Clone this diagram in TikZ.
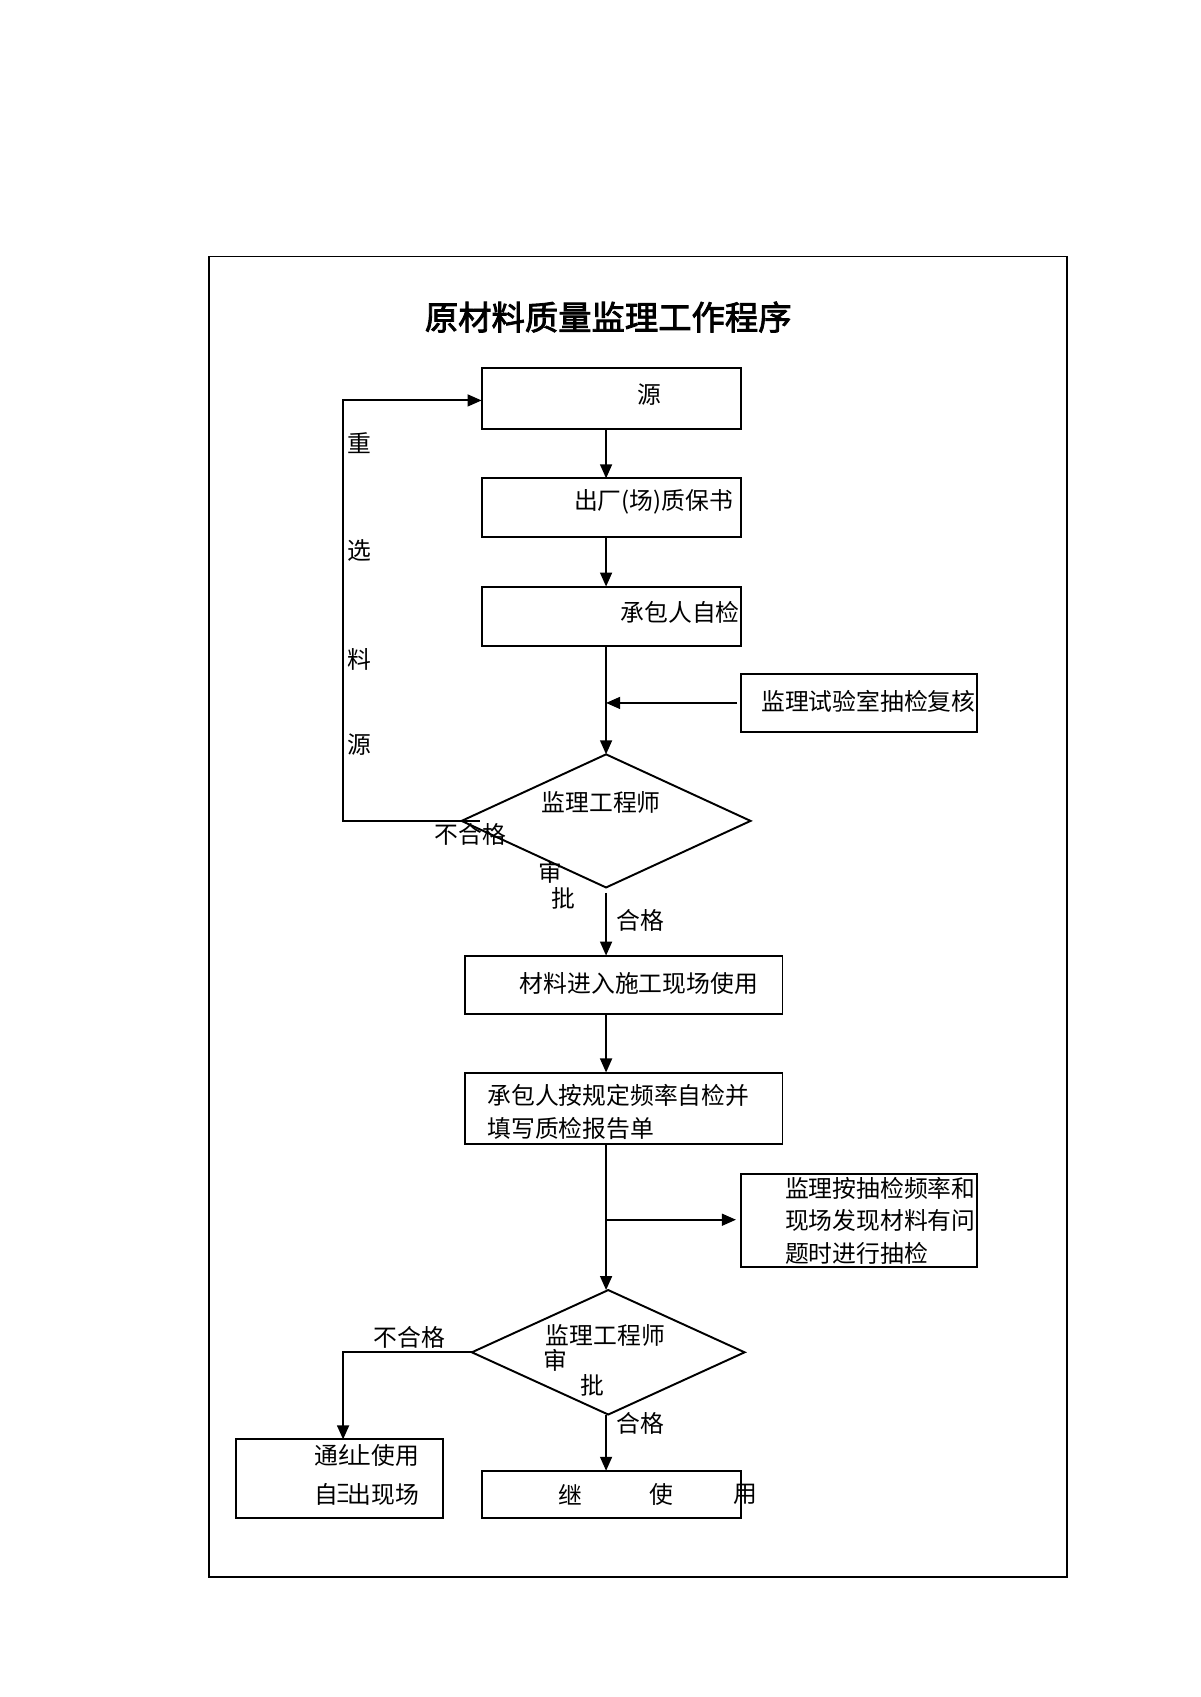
\documentclass[tikz,border=0pt]{standalone}
\usepackage{fontspec}
\setmainfont{Noto Sans CJK SC}
\newfontfamily\titlefont{Noto Sans CJK SC}[FakeBold=2.5]
\usetikzlibrary{arrows.meta,shapes.geometric}
\begin{document}
\begin{tikzpicture}[x=0.5pt,y=-0.5pt,
  ln/.style={line width=0.9pt},
  arr/.style={ln,-{Triangle[length=6.5pt,width=5.5pt]}},
  box/.style={draw,line width=0.9pt,inner sep=0pt,outer sep=0pt},
  dia/.style={diamond,draw,line width=0.9pt,inner sep=0pt,outer sep=0pt},
  txt/.style={inner sep=0pt,font=\fontsize{11pt}{13pt}\selectfont}]
\useasboundingbox (0,0) rectangle (1109,1568);
% outer frame
\draw[line width=0.9pt] (193,237) rectangle (986,1457);
% title
\node[inner sep=0pt,font=\titlefont\fontsize{15.4pt}{18pt}\selectfont] (title) at (562,293) {原材料质量监理工作程序};
\coordinate (spine) at (560,0);
\coordinate (fb) at (317,0);
% boxes
\node[box,minimum width=120pt,minimum height=28pt] (b1) at (565,368) {};
\node[box,minimum width=120pt,minimum height=27pt] (b2) at (565,469) {};
\node[box,minimum width=120pt,minimum height=27.5pt] (b3) at (565,569.5) {};
\node[box,minimum width=109pt,minimum height=26.5pt] (lab) at (794,649.5) {};
\node[dia,minimum width=133.5pt,minimum height=61.5pt] (d1) at (560,758.5) {};
\node[box,minimum width=146.5pt,minimum height=27pt] (b4) at (576.5,910) {};
\node[box,minimum width=146.5pt,minimum height=33pt] (b5) at (576.5,1024) {};
\node[box,minimum width=109pt,minimum height=43pt] (b6) at (794,1128) {};
\node[dia,minimum width=126pt,minimum height=57.5pt] (d2) at (562,1249.5) {};
\node[box,minimum width=95.5pt,minimum height=36.5pt] (b7) at (313.5,1366.5) {};
\node[box,minimum width=120pt,minimum height=22pt] (b8) at (565,1381) {};
% texts
\node[txt] (t1) at (600,365) {源};
\node[txt,anchor=west] (t2) at (530,464) {出厂(场)质保书};
\node[txt,anchor=west] (t3) at (573,566) {承包人自检};
\node[txt,anchor=west] (tlab) at (703,648) {监理试验室抽检复核};
\node[txt,anchor=west] (td1) at (500,741) {监理工程师};
\node[txt] (td1a) at (509,806) {审};
\node[txt] (td1b) at (521,830) {批};
\node[txt,anchor=west] (tno1) at (401,771) {不合格};
\node[txt,anchor=west] (tok1) at (569,850) {合格};
\node[txt,anchor=west] (t4) at (480,909) {材料进入施工现场使用};
\node[txt,anchor=west] (t5a) at (450,1012) {承包人按规定频率自检并};
\node[txt,anchor=west] (t5b) at (450,1043) {填写质检报告单};
\node[txt,anchor=west] (t6a) at (725,1098) {监理按抽检频率和};
\node[txt,anchor=west] (t6b) at (725,1128) {现场发现材料有问};
\node[txt,anchor=west] (t6c) at (725,1158) {题时进行抽检};
\node[txt,anchor=west] (td2) at (504,1234) {监理工程师};
\node[txt] (td2a) at (513,1257) {审};
\node[txt] (td2b) at (547,1280) {批};
\node[txt,anchor=west] (tno2) at (345,1236) {不合格};
\node[txt,anchor=west] (tok2) at (569,1315) {合格};
\node[txt,anchor=west] (t7a) at (290,1345) {通};
\begin{scope}
  \clip (312,1330) rectangle (321,1362);
  \node[txt,anchor=west] (t7ap) at (312,1345) {纠};
\end{scope}
\node[txt,anchor=west] (t7b) at (321,1345) {止使用};
\node[txt,anchor=west] (t7c) at (290,1381) {自};
\begin{scope}
  \clip (312,1366) rectangle (321,1398);
  \node[txt,anchor=west] (t7cp) at (310,1381) {彐};
\end{scope}
\node[txt,anchor=west] (t7d) at (321,1381) {出现场};
\node[txt] (t8a) at (527,1381) {继};
\node[txt] (t8b) at (611,1381) {使};
\node[txt] (t8c) at (689,1381) {用};
\node[txt] (s1) at (332,409) {重};
\node[txt] (s2) at (332,509) {选};
\node[txt] (s3) at (332,609) {料};
\node[txt] (s4) at (332,688) {源};
% connectors
\draw[arr] (b1.south -| spine) -- (b2.north -| spine);
\draw[arr] (b2.south -| spine) -- (b3.north -| spine);
\draw[arr] (b3.south -| spine) -- (d1.north);
\draw[arr] ([xshift=-2pt]lab.west) -- (lab.west -| spine);
\draw[arr] ([xshift=8.5pt]d1.west) -- (d1.west -| fb) |- ([yshift=-1pt]b1.west);
\draw[arr] ([yshift=-2.5pt]d1.south) -- (b4.north -| spine);
\draw[arr] (b4.south -| spine) -- (b5.north -| spine);
\draw[arr] (b5.south -| spine) -- (d2.north -| spine);
\coordinate (br) at (560,1127);
\draw[arr,shorten >=2.5pt] (br) -- (br -| b6.west);
\draw[arr] (d2.west) -- (d2.west -| fb) -- (b7.north -| fb);
\draw[arr] (d2.south -| spine) -- (b8.north -| spine);
\end{tikzpicture}
\end{document}
